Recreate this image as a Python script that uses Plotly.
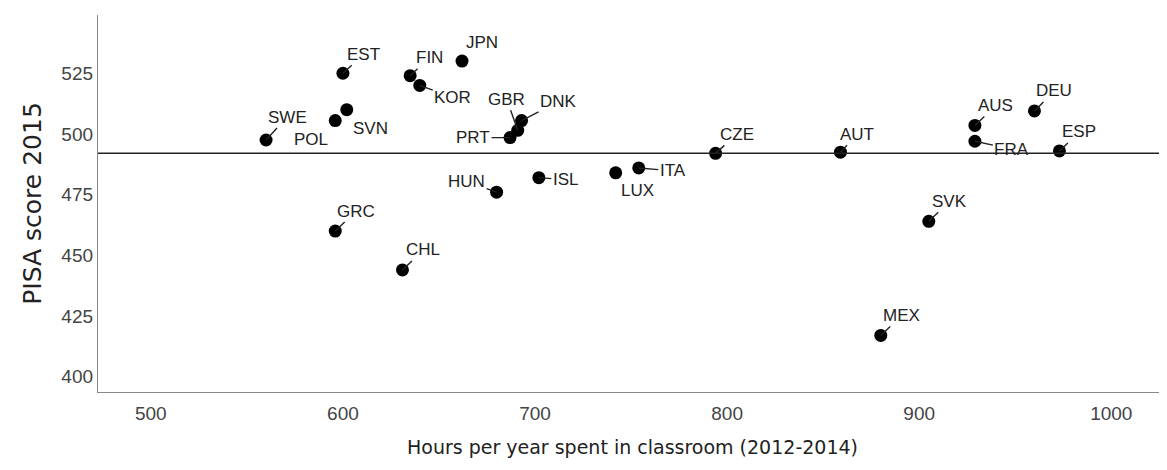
import plotly.graph_objects as go

countries = ["SWE", "POL", "SVN", "EST", "FIN", "KOR", "JPN", "GBR", "DNK", "PRT",
             "HUN", "ISL", "LUX", "ITA", "CZE", "AUT", "AUS", "FRA", "DEU", "ESP",
             "SVK", "MEX", "GRC", "CHL"]
hours = [560, 596, 602, 600, 635, 640, 662, 691, 693, 687,
         680, 702, 742, 754, 794, 859, 929, 929, 960, 973,
         905, 880, 596, 631]
pisa = [497.5, 505.5, 510, 525, 524, 520, 530, 501.5, 505.5, 498.5,
        476, 482, 484, 486, 492, 492.5, 503.5, 497, 509.5, 493,
        464, 417, 460, 444]
oecd_mean = 492

# label offsets in pixels (text centre relative to the dot), and whether a leader is drawn
label_dx = [21, -24, 24, 21, 19, 33, 20, -11, 37, -37,
            -30, 27, 22, 34, 21, 17, 21, 37, 20, 20,
            21, 21, 21, 21]
label_dy = [-23, 19, 19, -19, -18, 12, -19, -31, -19, 0,
            -11, 2, 18, 3, -19, -18, -20, 8, -20, -19,
            -20, -20, -20, -20]
leader = [True, False, False, True, True, True, False, True, True, True,
          True, True, False, True, True, True, True, True, True, True,
          True, True, True, True]

fig = go.Figure()
fig.add_trace(go.Scatter(
    x=hours, y=pisa, mode="markers",
    marker=dict(color="black", size=13),
    hovertext=countries, showlegend=False,
))
fig.add_hline(y=oecd_mean, line=dict(color="#222", width=1.5))

for c, x, y, dx, dy, ld in zip(countries, hours, pisa, label_dx, label_dy, leader):
    fig.add_annotation(
        x=x, y=y, text=c, xref="x", yref="y",
        ax=dx, ay=dy, showarrow=True, arrowhead=0, arrowwidth=1.4,
        arrowcolor="#222" if ld else "rgba(0,0,0,0)", standoff=0,
        font=dict(family="Liberation Sans, Arial", size=17, color="#222"),
    )

# page body has an 8px margin, so the figure is sized/offset to compensate
fig.update_layout(
    width=1159, height=462,
    margin=dict(l=90, r=0, t=7, b=78, autoexpand=False),
    paper_bgcolor="white", plot_bgcolor="white",
    font=dict(family="Liberation Sans, Arial", color="#444"),
    xaxis=dict(
        range=[472.5, 1029], tickvals=[500, 600, 700, 800, 900, 1000],
        showgrid=False, zeroline=False, showline=True, linecolor="#888", linewidth=1.3,
        tickfont=dict(size=19, color="#444"), automargin=False, ticklabelstandoff=4,
        title=dict(text="Hours per year spent in classroom (2012-2014)",
                   font=dict(family="DejaVu Sans", size=19, color="#222"), standoff=17),
    ),
    yaxis=dict(
        range=[393.7, 549], tickvals=[400, 425, 450, 475, 500, 525],
        showgrid=False, zeroline=False, showline=True, linecolor="#888", linewidth=1.3,
        tickfont=dict(size=19, color="#444"), automargin=False,
        title=dict(text="PISA score 2015",
                   font=dict(family="DejaVu Sans", size=25, color="#222"), standoff=12),
    ),
)

fig.write_html("out.html")
